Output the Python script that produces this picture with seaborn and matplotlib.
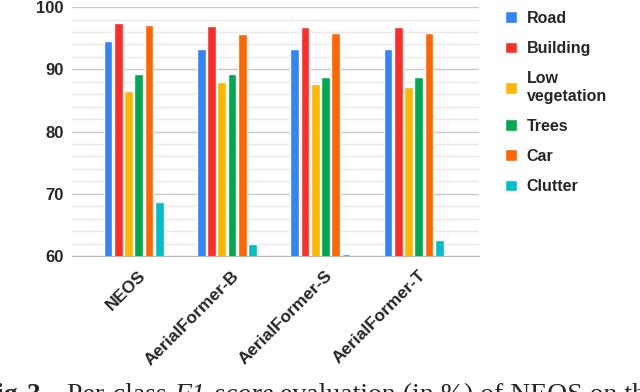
import pandas as pd
import matplotlib.pyplot as plt
import seaborn as sns
from matplotlib.ticker import MultipleLocator
from matplotlib.transforms import ScaledTranslation

# per-class F1 scores (%)
models = ["NEOS", "AerialFormer-B", "AerialFormer-S", "AerialFormer-T"]
classes = ["Road", "Building", "Low\nvegetation", "Trees", "Car", "Clutter"]
road = [94.5, 93.3, 93.3, 93.3]
building = [97.4, 96.9, 96.8, 96.8]
low_veg = [86.5, 88.0, 87.7, 87.2]
trees = [89.3, 89.2, 88.8, 88.8]
car = [97.1, 95.6, 95.8, 95.8]
clutter = [68.7, 61.9, 60.3, 62.6]
colors = ["#3284f7", "#ff2d2a", "#ffb700", "#00a94f", "#ff6600", "#00bfc8"]

rows = []
for cls, vals in zip(classes, [road, building, low_veg, trees, car, clutter]):
    for m, v in zip(models, vals):
        rows.append({"model": m, "class": cls, "f1": v})
df = pd.DataFrame(rows)

sns.set_style("white")
plt.rcParams["font.family"] = ["Liberation Sans", "DejaVu Sans"]

fig = plt.figure(figsize=(6.4, 3.92), dpi=100)
ax = fig.add_axes([0.1125, 0.347, 0.636, 0.635])

sns.barplot(data=df, x="model", y="f1", hue="class", order=models, hue_order=classes,
            palette=colors, saturation=1, width=0.66, gap=0.15, ax=ax)

ax.set_ylim(60, 100)
ax.set_xlim(-0.66, 3.7)
ax.yaxis.set_major_locator(MultipleLocator(10))
ax.yaxis.set_minor_locator(MultipleLocator(2))
ax.grid(True, axis="y", which="major", color="#c9c9c9", linewidth=1)
ax.grid(True, axis="y", which="minor", color="#e8e8e8", linewidth=1)
ax.set_axisbelow(True)
for s in ["top", "right", "left"]:
    ax.spines[s].set_visible(False)
ax.spines["bottom"].set_color("#b5b5b5")
ax.tick_params(axis="both", which="both", length=0)
ax.tick_params(axis="y", pad=6)
ax.tick_params(axis="x", pad=8.5)
for lab in ax.get_yticklabels():
    lab.set_fontsize(12)
    lab.set_fontweight("bold")
shift = ScaledTranslation(4 / 100, 0, fig.dpi_scale_trans)
for lab in ax.get_xticklabels():
    lab.set_fontsize(12.5)
    lab.set_fontweight("bold")
    lab.set_rotation(45)
    lab.set_ha("right")
    lab.set_rotation_mode("anchor")
    lab.set_transform(lab.get_transform() + shift)
ax.set_xlabel("")
ax.set_ylabel("")

sns.move_legend(ax, loc="upper left", bbox_to_anchor=(1.064, 0.985), frameon=False, title=None,
                borderpad=0, borderaxespad=0, handlelength=0.75, handleheight=0.75,
                handletextpad=0.6, labelspacing=0.95, prop={"size": 11.5, "weight": "bold"})

# caption fragment cut by the bottom edge
fig.canvas.draw()
renderer = fig.canvas.get_renderer()
pieces = [(-20, "Fig.", "bold", "normal"), (27, "3.", "bold", "normal"),
          (67, "Per-class ", "normal", "normal"), (None, "F1-score", "normal", "italic"),
          (None, " evaluation (in %) of NEOS on the SOTA", "normal", "normal")]
x = 0
for x0, txt, w, st in pieces:
    if x0 is not None:
        x = x0
    t = fig.text(x / 640, -10.5 / 392, txt, fontsize=20, family="Liberation Serif",
                 weight=w, style=st, va="baseline", ha="left")
    x = t.get_window_extent(renderer).x1

fig.savefig("out.png", dpi=100)
